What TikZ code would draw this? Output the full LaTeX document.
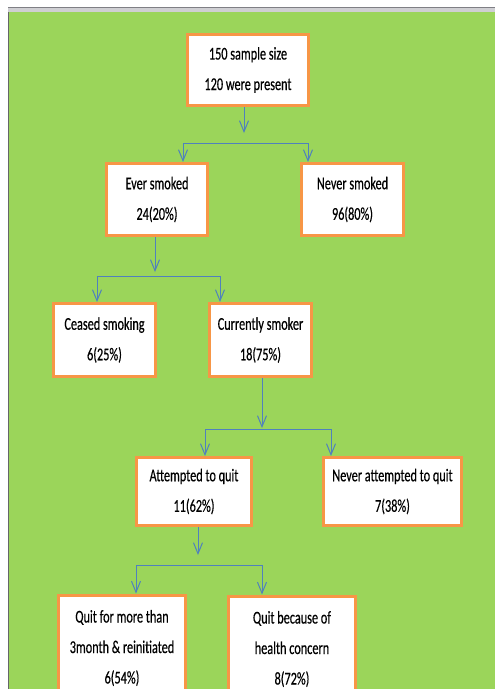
\documentclass[tikz,border=0pt]{standalone}
\usepackage{fontspec}
\setmainfont{Carlito}[FakeStretch=0.68,FakeBold=0.4]
\usetikzlibrary{arrows.meta,positioning}
\definecolor{FieldGreen}{HTML}{9BD55A}
\definecolor{BoxOrange}{HTML}{F79646}
\definecolor{LinkBlue}{HTML}{4F81BD}
\definecolor{FrameGray}{HTML}{CFCFD3}
\definecolor{EdgeGray}{HTML}{7F7F85}

\tikzset{
  countbox/.style={draw=BoxOrange, line width=3pt, fill=white, align=center,
                   inner sep=0pt, font=\fontsize{18}{30.5}\selectfont},
  link/.style={draw=LinkBlue, line width=1pt},
  linkarrow/.style={link, -{Straight Barb[length=11pt,width=9pt]}},
}

\begin{document}
\begin{tikzpicture}[x=1pt,y=-1pt]
  \useasboundingbox (0,0) rectangle (495,689);
  \clip (0,0) rectangle (495,689);
  % frame
  \fill[white] (0,0) rectangle (495,689);
  \fill[FieldGreen] (9,12) rectangle (495,689);
  \fill[FrameGray] (8,7) rectangle (495,12);
  \draw[EdgeGray, line width=1pt] (8,7.5) -- (495,7.5);
  \draw[EdgeGray!80!black, line width=1pt] (8.5,12) -- (8.5,689);

  % boxes
  \node[countbox, minimum width=121, minimum height=71] (sample) at (248,70)
    {150 sample size\\120 were present};
  \node[countbox, minimum width=101, minimum height=72] (ever) at (157,199.5)
    {Ever smoked\\24(20\%)};
  \node[countbox, minimum width=102, minimum height=72] (never) at (352.5,199.5)
    {Never smoked\\96(80\%)};
  \node[countbox, minimum width=102, minimum height=73] (ceased) at (104.5,340)
    {Ceased smoking\\6(25\%)};
  \node[countbox, minimum width=102, minimum height=73] (current) at (260.5,340)
    {Currently smoker\\18(75\%)};
  \node[countbox, minimum width=115, minimum height=68] (attempt) at (194,491.5)
    {Attempted to quit\\11(62\%)};
  \node[countbox, minimum width=138, minimum height=68] (noattempt) at (392.5,491.5)
    {Never attempted to quit\\7(38\%)};
  \node[countbox, minimum width=127, minimum height=106, anchor=north] (relapse) at (122,593.5)
    {Quit for more than\\3month \& reinitiated\\6(54\%)};
  \node[countbox, minimum width=127, minimum height=106, anchor=north] (health) at (292,594.5)
    {Quit because of\\health concern\\8(72\%)};

  % split points
  \coordinate (drop1) at (244,133);
  \coordinate (b1l) at (183,143);
  \coordinate (b1r) at (308,143);
  \coordinate (drop2) at (155,272);
  \coordinate (b2l) at (97,276);
  \coordinate (b2r) at (220,276);
  \coordinate (drop3) at (262,428);
  \coordinate (b3l) at (205,429);
  \coordinate (b3r) at (331,429);
  \coordinate (drop4) at (198,555);
  \coordinate (b4l) at (136,565);
  \coordinate (b4r) at (262,565);

  % connectors
  \draw[linkarrow] (sample.south -| drop1) -- (drop1);
  \draw[link] (b1l) -- (b1r);
  \draw[linkarrow] (b1l) -- (b1l |- ever.north);
  \draw[linkarrow] (b1r) -- (b1r |- never.north);

  \draw[linkarrow] (ever.south -| drop2) -- (drop2);
  \draw[link] (b2l) -- (b2r);
  \draw[linkarrow] (b2l) -- (b2l |- ceased.north);
  \draw[linkarrow] (b2r) -- (b2r |- current.north);

  \draw[linkarrow] (current.south -| drop3) -- (drop3);
  \draw[link] (b3l) -- (b3r);
  \draw[linkarrow] (b3l) -- (b3l |- attempt.north);
  \draw[linkarrow] (b3r) -- (b3r |- noattempt.north);

  \draw[linkarrow] (attempt.south -| drop4) -- (drop4);
  \draw[link] (b4l) -- (b4r);
  \draw[linkarrow] (b4l) -- (b4l |- relapse.north);
  \draw[linkarrow] (b4r) -- (b4r |- health.north);
\end{tikzpicture}
\end{document}
